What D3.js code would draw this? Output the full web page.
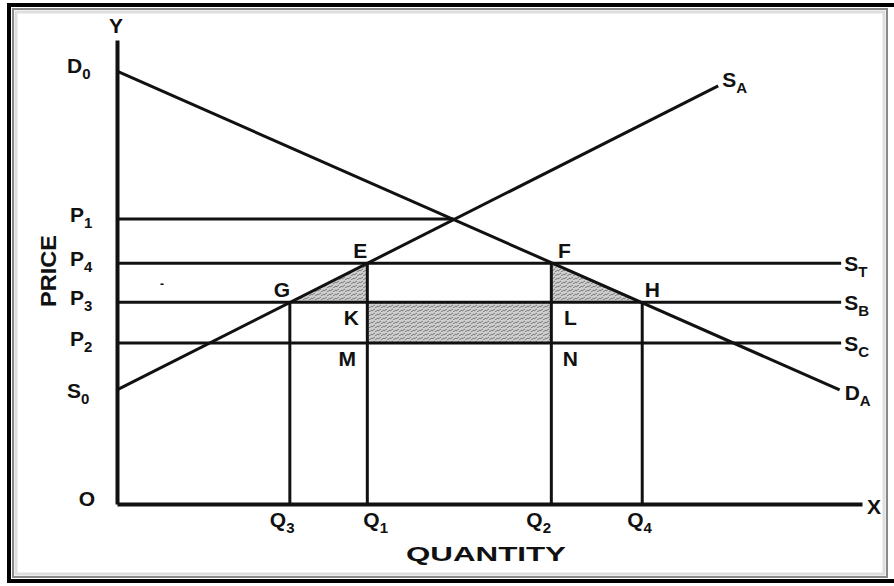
<!DOCTYPE html>
<html>
<head>
<meta charset="utf-8">
<script src="https://cdn.jsdelivr.net/npm/d3@7"></script>
<style>
  body { margin: 0; background: #fff; }
  text { font-family: "Liberation Sans", Arial, sans-serif; font-weight: bold; fill: #111; }
</style>
</head>
<body>
<script>
//constants
const width = 894,
    height = 586;

// data (price / quantity units, 0..10)
const priceNames = ["P1", "P4", "P3", "P2"];
const priceValues = [6.14, 5.19, 4.35, 3.47];
const priceEnds = [4.52, 9.72, 9.72, 9.72];

const supplyNames = ["ST", "SB", "SC"];
const supplyValues = [5.19, 4.35, 3.47];

const quantityNames = ["Q3", "Q1", "Q2", "Q4"];
const quantityValues = [2.32, 3.36, 5.83, 7.05];
const quantityTops = [4.35, 5.19, 5.19, 4.35];

const demandLine = [[0, 9.33], [9.70, 2.46]];
const supplyLine = [[0, 2.46], [8.07, 9.01]];

const pointNames = ["E", "F", "G", "H", "K", "L", "M", "N"];
const pointX = [3.36, 5.83, 2.32, 7.05, 3.36, 5.83, 3.36, 5.83];
const pointY = [5.19, 5.19, 4.35, 4.35, 4.35, 4.35, 3.47, 3.47];

// label offsets (px)
const pointOffsets = [[-7, -5], [13, -5], [-8, -5], [10, -5], [-16, 23], [19, 23], [-20, 23], [19, 23]];
const quantityOffsets = [-20, -4, -25, -15];

const svg = d3.select("body").append("svg")
    .attr("width", width)
    .attr("height", height);

// frame
svg.append("rect").attr("x", 9).attr("y", 5).attr("width", 920).attr("height", 576)
    .attr("fill", "none").attr("stroke", "#000").attr("stroke-width", 4);
svg.append("rect").attr("x", 13).attr("y", 9).attr("width", 874).attr("height", 568)
    .attr("fill", "none").attr("stroke", "#888").attr("stroke-width", 2);
svg.append("rect").attr("x", 16).attr("y", 12).attr("width", 868).attr("height", 562)
    .attr("fill", "none").attr("stroke", "#ddd").attr("stroke-width", 3);

// stipple pattern
const defs = svg.append("defs");
const pat = defs.append("pattern").attr("id", "stip")
    .attr("width", 6).attr("height", 4).attr("patternUnits", "userSpaceOnUse");
pat.append("rect").attr("width", 6).attr("height", 4).attr("fill", "#cfcfcf");
pat.append("path").attr("d", "M0,3L3,1M3,4L6,2").attr("stroke", "#777").attr("stroke-width", 1);

const xScale = d3.scaleLinear().domain([0, 10]).range([117, 862]);
const yScale = d3.scaleLinear().domain([0, 10]).range([504, 40]);

const line = d3.line().x(d => xScale(d[0])).y(d => yScale(d[1]));

// shaded areas
const ix = name => pointNames.indexOf(name);
const pt = name => [pointX[ix(name)], pointY[ix(name)]];
const shades = [["G", "E", "K"], ["F", "H", "L"], ["K", "L", "N", "M"]];
svg.append("g").selectAll("path").data(shades).join("path")
    .attr("d", d => line(d.map(pt)) + "Z")
    .attr("fill", "url(#stip)");

// axes
svg.append("g").attr("transform", `translate(0,${yScale(0)})`)
    .call(d3.axisBottom(xScale).tickValues([]).tickSizeOuter(0));
svg.append("g").attr("transform", `translate(${xScale(0)},0)`)
    .call(d3.axisLeft(yScale).tickValues([]).tickSizeOuter(0));
svg.selectAll(".domain").attr("stroke", "#111").attr("stroke-width", 4);

const lines = svg.append("g").attr("stroke", "#111").attr("stroke-width", 3).attr("fill", "none");

// price lines
lines.selectAll(".pl").data(priceValues).join("path").attr("class", "pl")
    .attr("d", (d, i) => line([[0, d], [priceEnds[i], d]]));

// quantity verticals
lines.selectAll(".ql").data(quantityValues).join("path").attr("class", "ql")
    .attr("d", (d, i) => line([[d, 0], [d, quantityTops[i]]]));

// demand and supply
lines.append("path").attr("d", line(demandLine));
lines.append("path").attr("d", line(supplyLine));

// labels
function label(txt, sub, x, y, anchor) {
    const t = svg.append("text").attr("x", x).attr("y", y)
        .attr("text-anchor", anchor || "start").attr("font-size", 21);
    t.append("tspan").text(txt);
    if (sub) t.append("tspan").attr("dy", 6).attr("font-size", 15).text(sub);
    return t;
}

label("Y", null, 116, 33, "middle");
label("O", null, 87, 506, "middle");
label("X", null, 874, 514, "middle");
label("D", "0", 67, 73);
label("S", "0", 67, yScale(supplyLine[0][1]) + 8);
label("S", "A", xScale(supplyLine[1][0]) + 4, yScale(supplyLine[1][1]) + 1);
label("D", "A", xScale(demandLine[1][0]) + 5, yScale(demandLine[1][1]) + 10);

priceNames.forEach((p, i) => label(p[0], p.slice(1), 70, yScale(priceValues[i]) + 3));
supplyNames.forEach((s, i) => label(s[0], s.slice(1), xScale(9.72) + 3, yScale(supplyValues[i]) + 8));
quantityNames.forEach((q, i) => label(q[0], q.slice(1), xScale(quantityValues[i]) + quantityOffsets[i], 527));
pointNames.forEach((p, i) => label(p, null,
    xScale(pointX[i]) + pointOffsets[i][0], yScale(pointY[i]) + pointOffsets[i][1], "middle"));

label("-", null, 162, 288, "middle").attr("font-size", 12);

svg.append("text").attr("x", 486).attr("y", 561).attr("text-anchor", "middle")
    .attr("font-size", 21).attr("textLength", 160).attr("lengthAdjust", "spacingAndGlyphs")
    .text("QUANTITY");

svg.append("text").attr("transform", "translate(56,271) rotate(-90)")
    .attr("text-anchor", "middle").attr("font-size", 22)
    .attr("textLength", 72).attr("lengthAdjust", "spacingAndGlyphs")
    .text("PRICE");
</script>
</body>
</html>
